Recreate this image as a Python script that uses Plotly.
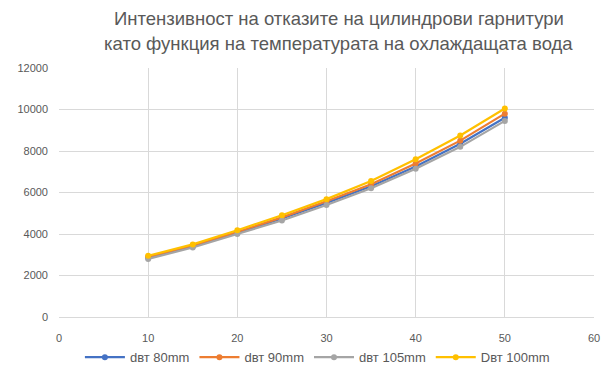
import plotly.graph_objects as go

# Cooling-water temperature, °C
temperature = [10, 15, 20, 25, 30, 35, 40, 45, 50]

# Failure intensity per bore size
series_names = ["dвт 80mm", "dвт 90mm", "dвт 105mm", "Dвт 100mm"]
d80 = [2850, 3400, 4050, 4750, 5500, 6300, 7250, 8350, 9600]
d90 = [2900, 3450, 4100, 4800, 5580, 6400, 7400, 8500, 9800]
d105 = [2800, 3350, 4000, 4650, 5400, 6200, 7150, 8200, 9450]
d100 = [2950, 3500, 4180, 4900, 5680, 6550, 7600, 8750, 10050]

x_ticks = [0, 10, 20, 30, 40, 50, 60]
y_ticks = [0, 2000, 4000, 6000, 8000, 10000, 12000]

title_lines = [
    "Интензивност на отказите на цилиндрови гарнитури",
    "като функция на температурата на охлаждащата вода",
]

colors = ["#4472C4", "#ED7D31", "#A5A5A5", "#FFC000"]
values = [d80, d90, d105, d100]

fig = go.Figure()
for name, ys, col in zip(series_names, values, colors):
    fig.add_trace(go.Scatter(
        x=temperature, y=ys, name=name, mode="lines+markers",
        line=dict(color=col, width=2.2),
        marker=dict(color=col, size=6, symbol="circle"),
    ))

font_family = "Liberation Sans, Arial, sans-serif"

# two-line chart title, placed above the plot area
for line, ypos in zip(title_lines, [1.200, 1.100]):
    fig.add_annotation(
        text=line, xref="paper", yref="paper", x=0.523, y=ypos,
        xanchor="center", yanchor="middle", showarrow=False,
        font=dict(size=18.5, color="#595959", family=font_family),
    )

fig.update_layout(
    width=602, height=380,
    margin=dict(l=59, r=8, t=68, b=63, autoexpand=False),
    paper_bgcolor="white", plot_bgcolor="white",
    font=dict(family=font_family, size=11, color="#595959"),
    xaxis=dict(
        range=[0, 60], tickvals=x_ticks, ticktext=[str(v) for v in x_ticks],
        showgrid=True, gridcolor="#D9D9D9", gridwidth=1,
        zeroline=False, showline=True, linecolor="#D9D9D9",
        ticks="", ticklabelstandoff=11,
    ),
    yaxis=dict(
        range=[0, 12000], tickvals=y_ticks, ticktext=[str(v) for v in y_ticks],
        showgrid=True, gridcolor="#D9D9D9", gridwidth=1,
        zeroline=False, showline=False, ticks="", ticklabelstandoff=10,
    ),
    legend=dict(
        orientation="h", x=0.483, xanchor="center",
        yref="container", y=0.06, yanchor="middle",
        font=dict(size=13, color="#595959"), itemwidth=40,
        tracegroupgap=0,
    ),
)

fig.write_html("out.html")
